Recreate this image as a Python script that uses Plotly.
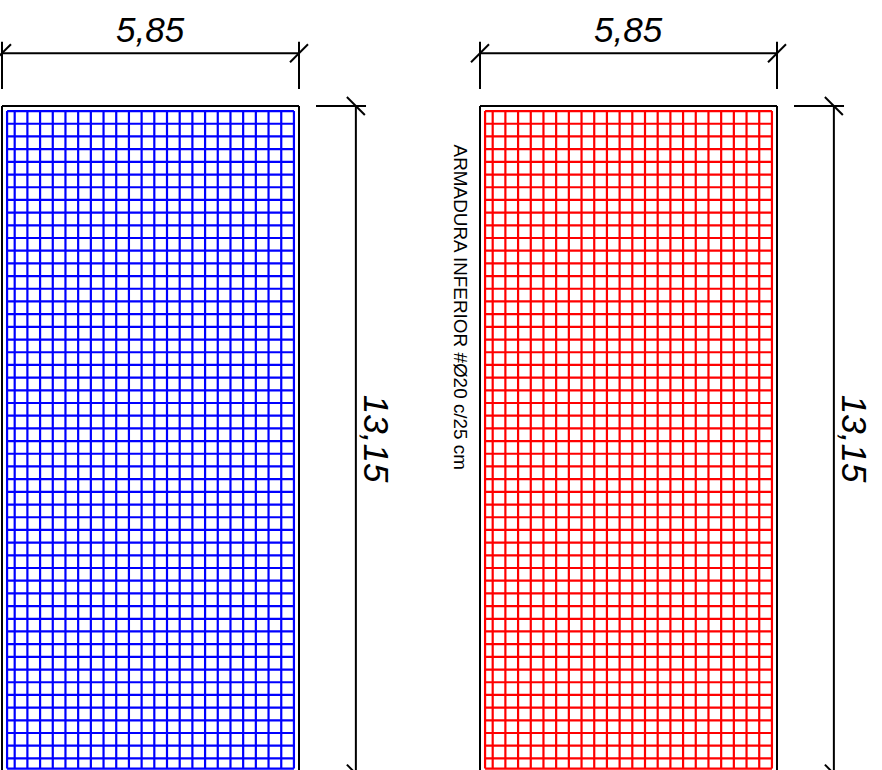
import plotly.graph_objects as go

# all values in metres; y grows downward from the slab's top edge
slab_width = 5.85
slab_height = 13.15
slab_offsets = [0.0, 9.415]
slab_colors = ["#0000ff", "#ff0000"]

bars_x = [0.10, 0.25, 0.50, 0.75, 1.00, 1.25, 1.50, 1.75, 2.00, 2.25, 2.50, 2.75,
          3.00, 3.25, 3.50, 3.75, 4.00, 4.25, 4.50, 4.75, 5.00, 5.25, 5.50, 5.75]
bars_y = [0.10, 0.35, 0.60, 0.85, 1.10, 1.35, 1.60, 1.85, 2.10, 2.35, 2.60, 2.85,
          3.10, 3.35, 3.60, 3.85, 4.10, 4.35, 4.60, 4.85, 5.10, 5.35, 5.60, 5.85,
          6.10, 6.35, 6.60, 6.85, 7.10, 7.35, 7.60, 7.85, 8.10, 8.35, 8.60, 8.85,
          9.10, 9.35, 9.60, 9.85, 10.10, 10.35, 10.60, 10.85, 11.10, 11.35, 11.60,
          11.85, 12.10, 12.35, 12.60, 12.85, 13.05]
bar_x0, bar_x1 = 0.10, 5.75
bar_y0, bar_y1 = 0.10, 13.05

width_label = "5,85"
height_label = "13,15"
note_label = "ARMADURA INFERIOR #Ø20 c/25 cm"

dim_y = -1.04
dim_x = 6.97
ext_top, ext_bottom = -1.266, -0.335
ext_left, ext_right = 6.185, 7.17
tick = 0.177

PX_PER_M = 50.77
W, H = 882, 770
x_range = [-2 / PX_PER_M, (W - 2) / PX_PER_M]
y_range = [(H - 106) / PX_PER_M, -106 / PX_PER_M]

fig = go.Figure()


def add_path(xs, ys, color, width):
    fig.add_trace(go.Scatter(x=xs, y=ys, mode="lines", hoverinfo="skip", showlegend=False,
                             line=dict(color=color, width=width)))


black_x, black_y = [], []


def seg(x0, y0, x1, y1):
    black_x.extend([x0, x1, None])
    black_y.extend([y0, y1, None])


for off, color in zip(slab_offsets, slab_colors):
    gx, gy = [], []
    for b in bars_x:
        gx.extend([off + b, off + b, None])
        gy.extend([bar_y0, bar_y1, None])
    for b in bars_y:
        gx.extend([off + bar_x0, off + bar_x1, None])
        gy.extend([b, b, None])
    add_path(gx, gy, color, 2.2)

    # slab outline
    seg(off, 0, off + slab_width, 0)
    seg(off, 0, off, slab_height)
    seg(off + slab_width, 0, off + slab_width, slab_height)
    seg(off, slab_height, off + slab_width, slab_height)
    # width dimension
    seg(off, dim_y, off + slab_width, dim_y)
    for e in (off, off + slab_width):
        seg(e, ext_top, e, ext_bottom)
        seg(e - tick, dim_y + tick, e + tick, dim_y - tick)
    # height dimension
    seg(off + dim_x, 0, off + dim_x, slab_height)
    seg(off + ext_left, 0, off + ext_right, 0)
    for e in (0, slab_height):
        seg(off + dim_x - tick, e - tick, off + dim_x + tick, e + tick)

add_path(black_x, black_y, "#000000", 2.0)

FONT = "Liberation Sans"
annotations = []
for off in slab_offsets:
    annotations.append(dict(x=off + 2.92, y=-1.50, text=f"<i>{width_label}</i>", showarrow=False,
                            font=dict(family=FONT, size=35, color="#000")))
    annotations.append(dict(x=off + 7.39, y=6.56, text=f"<i>{height_label}</i>", showarrow=False,
                            textangle=90, font=dict(family=FONT, size=35, color="#000")))
annotations.append(dict(x=9.02, y=3.97, text=note_label, showarrow=False, textangle=90,
                        font=dict(family=FONT, size=18.9, color="#000")))

fig.update_layout(
    width=W, height=H, margin=dict(l=0, r=0, t=0, b=0),
    paper_bgcolor="#fff", plot_bgcolor="#fff", showlegend=False,
    xaxis=dict(range=x_range, visible=False, fixedrange=True),
    yaxis=dict(range=y_range, visible=False, fixedrange=True),
    annotations=annotations,
)
fig.write_html("out.html", config=dict(displayModeBar=False),
               post_script="document.body.style.margin='0';document.documentElement.style.overflow='hidden';")
